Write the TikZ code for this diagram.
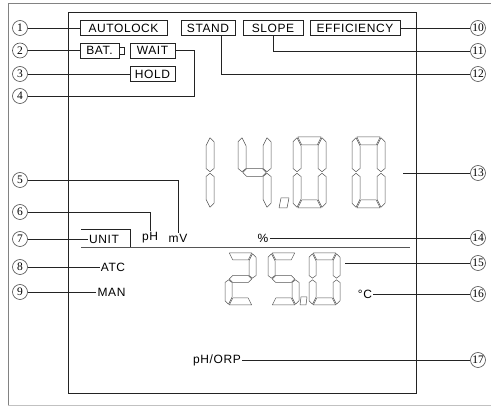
\documentclass[tikz,border=0pt]{standalone}
\usepackage{fontspec}
\setmainfont{Liberation Sans}
\newfontfamily\lcdfont[LetterSpace=5]{Liberation Sans}
\newfontfamily\numfont{Liberation Serif}
\usetikzlibrary{positioning,calc}
\definecolor{inkline}{RGB}{35,35,35}
\definecolor{segline}{RGB}{85,85,85}
\definecolor{rimgray}{RGB}{130,130,130}

\def\dg{0.8}
\tikzset{
  sega/.pic={\draw[segment] (\dt/2+\dg,\dh) -- (\dw-\dt/2-\dg,\dh) -- (\dw-\dt-\dg,\dh-\dt) -- (\dt+\dg,\dh-\dt) -- cycle;},
  segb/.pic={\draw[segment] (\dw-\dt/2,\dh-\dg) -- (\dw,\dh-\dt/2-\dg) -- (\dw,\dm+\dt/2) -- (\dw-\dt/2,\dm+\dg) -- (\dw-\dt,\dm+\dt/2) -- (\dw-\dt,\dh-\dt-\dg) -- cycle;},
  segc/.pic={\draw[segment] (\dw-\dt/2,\dg) -- (\dw,\dt/2+\dg) -- (\dw,\dm-\dt/2) -- (\dw-\dt/2,\dm-\dg) -- (\dw-\dt,\dm-\dt/2) -- (\dw-\dt,\dt+\dg) -- cycle;},
  segd/.pic={\draw[segment] (\dt/2+\dg,0) -- (\dw-\dt/2-\dg,0) -- (\dw-\dt-\dg,\dt) -- (\dt+\dg,\dt) -- cycle;},
  sege/.pic={\draw[segment] (\dt/2,\dg) -- (0,\dt/2+\dg) -- (0,\dm-\dt/2) -- (\dt/2,\dm-\dg) -- (\dt,\dm-\dt/2) -- (\dt,\dt+\dg) -- cycle;},
  segf/.pic={\draw[segment] (\dt/2,\dh-\dg) -- (0,\dh-\dt/2-\dg) -- (0,\dm+\dt/2) -- (\dt/2,\dm+\dg) -- (\dt,\dm+\dt/2) -- (\dt,\dh-\dt-\dg) -- cycle;},
  segg/.pic={\draw[segment] (\dt/2+\dg,\dm) -- (\dt+\dg,\dm+\dt/2) -- (\dw-\dt-\dg,\dm+\dt/2) -- (\dw-\dt/2-\dg,\dm) -- (\dw-\dt-\dg,\dm-\dt/2) -- (\dt+\dg,\dm-\dt/2) -- cycle;}
}
% one seven segment digit: x, y (bottom left), width, height, thickness, segments
\newcommand{\segdigit}[6]{%
  \def\dw{#3}\def\dh{#4}\def\dt{#5}\pgfmathsetmacro\dm{#4/2}%
  \begin{scope}[shift={(#1,#2)},y=1pt,xslant=0.12]
    \foreach \s in {#6} {\pic {seg\s};}
  \end{scope}}

\begin{document}
\begin{tikzpicture}[x=1pt,y=-1pt,line width=0.6pt,
  callout/.style={circle,draw=inkline!80,inner sep=0pt,minimum size=15pt,font=\numfont\fontsize{11.5}{11.5}\selectfont},
  tag/.style={draw=inkline,inner sep=0pt,minimum height=15pt,font=\lcdfont\fontsize{12}{12}\selectfont},
  lbl/.style={inner sep=1pt,font=\lcdfont\fontsize{12}{12}\selectfont},
  segment/.style={draw=segline,line width=0.5pt,line join=round}]
  \useasboundingbox (0,0) rectangle (491,406);
  \draw[rimgray] (491,3) -- (8,3) -- (8,405);
  \draw[rimgray!50] (8,405) -- (491,405);
  \draw[inkline,line width=0.8pt] (68,12) rectangle (416,393);

  \node[tag,minimum width=87] (autolock) at (123.5,28) {AUTOLOCK};
  \node[tag,minimum width=54] (stand) at (208,28) {STAND};
  \node[tag,minimum width=60] (slope) at (273,28) {SLOPE};
  \node[tag,minimum width=90] (effic) at (355,28) {EFFICIENCY};
  \node[tag,minimum width=39] (bat) at (99.5,50.5) {BAT.};
  \draw[inkline] ([yshift=3.5pt]bat.east) -- ++(5,0) -- ++(0,7) -- ++(-5,0);
  \node[tag,minimum width=45] (wait) at (152.5,50.5) {WAIT};
  \node[tag,minimum width=45] (hold) at (152.5,74) {HOLD};

  \node[lbl] (ph) at (150,238) {pH};
  \node[lbl] (mv) at (178,238) {mV};
  \node[lbl] (unit) at (104,239) {UNIT};
  \coordinate (utl) at (81,229);
  \coordinate (utr) at (130,229);
  \coordinate (divl) at (81,247);
  \coordinate (divr) at (410,247);
  \draw[inkline] (utl) -- (utr) -- (utr |- divl);
  \draw[segline,line width=0.8pt] (divl) -- (divr);
  \node[lbl] (atc) at (113,267) {ATC};
  \node[lbl] (man) at (111.5,292) {MAN};
  \node[lbl] (pct) at (263,238) {\%};
  \node[lbl] (degc) at (365,294) {°C};
  \node[lbl] (phorp) at (217,360) {pH/ORP};

  \segdigit{181}{208}{33}{71}{8}{b,c}
  \segdigit{238}{208}{33}{71}{8}{b,c,f,g}
  \segdigit{293}{208}{33}{71}{8}{a,b,c,d,e,f}
  \segdigit{352}{208}{33}{71}{8}{a,b,c,d,e,f}
  \draw[segment] (279,208) -- (287,208) -- (289,198) -- (281,198) -- cycle;
  \segdigit{225}{305}{31}{52}{7}{a,b,g,e,d}
  \segdigit{268}{305}{31}{52}{7}{a,f,g,c,d}
  \segdigit{309}{305}{31}{52}{7}{a,b,c,d,e,f}
  \draw[segment] (300,305) -- (306,305) -- (307,297) -- (301,297) -- cycle;
  \coordinate (bigend) at (403,173);
  \coordinate (smallend) at (345,263);

  \foreach \n/\y in {1/28,2/50.5,3/74,4/96,5/180,6/212,7/239,8/267,9/292}
    \node[callout] (c\n) at (20,\y) {\n};
  \foreach \n/\y in {10/28,11/51,12/74,13/173,14/238,15/263,16/294,17/360}
    \node[callout] (c\n) at (478,\y) {\n};

  \draw[inkline] (c1) -- (autolock);
  \draw[inkline] (c2) -- (bat);
  \draw[inkline] (c3) -- (hold);
  \coordinate (k4) at (194,96);
  \draw[inkline] (c4) -- (k4) |- (wait.east);
  \draw[inkline] (c5) -| (mv.north);
  \draw[inkline] (c6) -| (ph.north);
  \draw[inkline] (c7) -- (unit);
  \draw[inkline] (c8) -- (atc);
  \draw[inkline] (c9) -- (man);
  \draw[inkline] (effic) -- (c10);
  \draw[inkline] (slope.south) |- (c11);
  \draw[inkline] ([xshift=13pt]stand.south) |- (c12);
  \draw[inkline] (bigend) -- (c13);
  \draw[inkline] (pct) -- (c14);
  \draw[inkline] (smallend) -- (c15);
  \draw[inkline] (degc) -- (c16);
  \draw[inkline] (phorp) -- (c17);
\end{tikzpicture}
\end{document}
